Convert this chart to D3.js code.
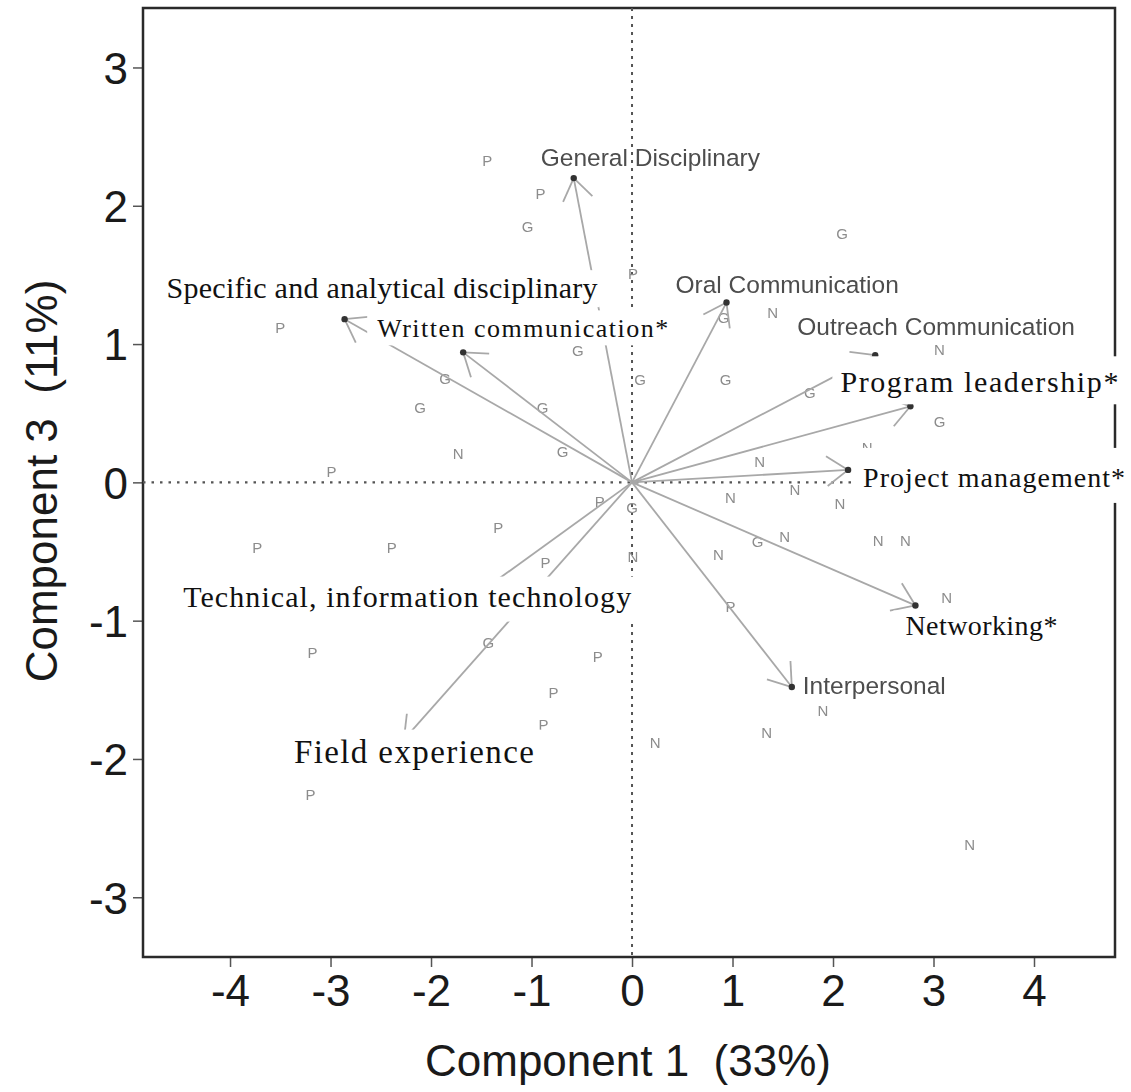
<!DOCTYPE html>
<html>
<head>
<meta charset="utf-8">
<script src="https://cdn.jsdelivr.net/npm/d3@7"></script>
<style>
  html, body { margin: 0; padding: 0; background: #fff; }
  svg { display: block; }
</style>
</head>
<body>
<script>
// ---------------- DATA ----------------
const xTicks = [-4, -3, -2, -1, 0, 1, 2, 3, 4];
const yTicks = [-3, -2, -1, 0, 1, 2, 3];
const xTitle = "Component 1  (33%)";
const yTitle = "Component 3  (11%)";

// Observations (group letter, component 1, component 3)
const obsGroup = ["P","P","G","P","G","P","G","N","N","G",
                  "G","G","G","G","G","G","G","N","G","N",
                  "N","P","P","G","N","N","N","P","P","P",
                  "P","G","N","N","N","N","N","P","N","G",
                  "P","P","P","P","N","N","N","P","N"];
const obsComp1 = [-1.44,-0.91,-1.04, 0.01, 2.09,-3.50, 0.91, 1.40, 3.06,-0.54,
                  -1.86,-2.11,-0.89, 0.08, 0.93, 1.77, 3.06,-1.73,-0.69, 2.34,
                   1.27,-2.99,-0.32, 0.00, 0.98, 1.62, 2.07,-1.33,-3.73,-2.39,
                  -0.86, 1.25, 1.52, 2.45, 2.72, 0.86, 0.01, 0.98, 3.13,-1.43,
                  -3.18,-0.34,-0.78,-0.88, 1.90, 1.34, 0.23,-3.20, 3.36];
const obsComp3 = [ 2.33, 2.09, 1.85, 1.51, 1.80, 1.12, 1.19, 1.23, 0.96, 0.95,
                   0.75, 0.54, 0.54, 0.74, 0.74, 0.65, 0.44, 0.21, 0.22, 0.25,
                   0.15, 0.08,-0.14,-0.18,-0.11,-0.05,-0.15,-0.33,-0.47,-0.47,
                  -0.58,-0.43,-0.39,-0.42,-0.42,-0.52,-0.54,-0.90,-0.83,-1.16,
                  -1.23,-1.26,-1.52,-1.75,-1.65,-1.81,-1.88,-2.26,-2.62];

// Variable loadings (arrows)
const varNames = ["General Disciplinary","Oral Communication","Outreach Communication",
                  "Program leadership*","Project management*","Networking*","Interpersonal",
                  "Field experience","Technical, information technology",
                  "Specific and analytical disciplinary","Written communication*"];
const varComp1 = [-0.58, 0.94, 2.42, 2.77, 2.15, 2.82, 1.59, -2.27, -1.75, -2.86, -1.68];
const varComp3 = [ 2.20, 1.30, 0.92, 0.55, 0.09,-0.89,-1.48, -1.86, -0.92,  1.18,  0.94];

// ---------------- LAYOUT (styles / offsets, px) ----------------
const W = 1131, H = 1092;
const plot = { left: 143, right: 1115, top: 8, bottom: 957 };
// sans grey labels: offset of text start / vertical centre from arrow tip
const sansLabels = {
  "General Disciplinary":   { dx: -33, dy: -21 },
  "Oral Communication":     { dx: -51, dy: -18 },
  "Outreach Communication": { dx: -78, dy: -29 },
  "Interpersonal":          { dx: 11,  dy: -2 }
};
// serif overlaid labels: text start/baseline offset, white box, font size, width
const serifLabels = {
  "Specific and analytical disciplinary": { dx: -178, dy: -21, box: [-185, -49, 440, 37], fs: 30, w: 431 },
  "Written communication*":               { dx: -86,  dy: -15, box: [-96, -42, 305, 35],  fs: 26, w: 291 },
  "Program leadership*":                  { dx: -70,  dy: -14, box: [-78, -50, 300, 48],  fs: 30, w: 278 },
  "Project management*":                  { dx: 15,   dy: 17,  box: [5, -22, 290, 55],    fs: 28, w: 262 },
  "Networking*":                          { dx: -10,  dy: 30,  box: [-22, 5, 177, 35],    fs: 28, w: 152 },
  "Technical, information technology":    { dx: -273, dy: -3,  box: [-280, -33, 462, 45], fs: 30, w: 448 },
  "Field experience":                     { dx: -110, dy: 23,  box: [-118, -10, 255, 43], fs: 33, w: 240 }
};

// ---------------- CHART ----------------
const svg = d3.select("body").append("svg").attr("width", W).attr("height", H);

const defs = svg.append("defs");
defs.append("filter").attr("id", "soft")
  .append("feGaussianBlur").attr("stdDeviation", 0.6);

const x = d3.scaleLinear().domain([-4.866, 4.806]).range([plot.left, plot.right]);
const y = d3.scaleLinear().domain([-3.432, 3.43]).range([plot.bottom, plot.top]);

const sans = "'Liberation Sans', Arial, Helvetica, sans-serif";
const serif = "'Liberation Serif', 'Times New Roman', serif";

// axes
const xAxis = svg.append("g")
  .attr("transform", `translate(0,${plot.bottom})`)
  .call(d3.axisBottom(x).tickValues(xTicks).tickSize(10).tickPadding(8).tickFormat(d => String(d)));
const yAxis = svg.append("g")
  .attr("transform", `translate(${plot.left},0)`)
  .call(d3.axisLeft(y).tickValues(yTicks).tickSize(10).tickPadding(5).tickFormat(d => String(d)));
[xAxis, yAxis].forEach(g => {
  g.select(".domain").remove();
  g.selectAll(".tick line").attr("stroke", "#555").attr("stroke-width", 1.5);
  g.selectAll(".tick text").attr("fill", "#1a1a1a").style("font-family", sans).style("font-size", "44px");
});
xAxis.selectAll(".tick text").attr("dy", "0.71em");
yAxis.selectAll(".tick text").attr("dy", "0.36em");

// axis titles
svg.append("text")
  .attr("x", 628).attr("y", 1076)
  .attr("text-anchor", "middle")
  .style("white-space", "pre")
  .style("font-family", sans).style("font-size", "44px").attr("fill", "#1a1a1a")
  .text(xTitle);
svg.append("text")
  .attr("transform", `translate(57,481) rotate(-90)`)
  .attr("text-anchor", "middle")
  .style("white-space", "pre")
  .style("font-family", sans).style("font-size", "44px").attr("fill", "#1a1a1a")
  .text(yTitle);

// frame
svg.append("rect")
  .attr("x", plot.left).attr("y", plot.top)
  .attr("width", plot.right - plot.left).attr("height", plot.bottom - plot.top)
  .attr("fill", "none").attr("stroke", "#2a2a2a").attr("stroke-width", 2.5);

// soft grey layer
const layer = svg.append("g").attr("filter", "url(#soft)");

// reference dotted lines
layer.append("line")
  .attr("x1", plot.left).attr("x2", plot.right).attr("y1", y(0)).attr("y2", y(0))
  .attr("stroke", "#555").attr("stroke-width", 2.2).attr("stroke-dasharray", "2.5,6");
layer.append("line")
  .attr("x1", x(0)).attr("x2", x(0)).attr("y1", plot.top).attr("y2", plot.bottom)
  .attr("stroke", "#555").attr("stroke-width", 2).attr("stroke-dasharray", "3,5");

// observations
layer.selectAll("text.obs")
  .data(obsGroup.map((g, i) => ({ g, c1: obsComp1[i], c3: obsComp3[i] })))
  .join("text").attr("class", "obs")
  .attr("x", d => x(d.c1)).attr("y", d => y(d.c3))
  .attr("dy", "0.36em").attr("text-anchor", "middle")
  .style("font-family", sans).style("font-size", "15px")
  .attr("fill", "#8c8c8c")
  .text(d => d.g);

// arrows
const vars = varNames.map((n, i) => ({ name: n, c1: varComp1[i], c3: varComp3[i] }));
const ox = x(0), oy = y(0);
const headLen = 26, headAng = 35 * Math.PI / 180;
vars.forEach(v => {
  const tx = x(v.c1), ty = y(v.c3);
  layer.append("line")
    .attr("x1", ox).attr("y1", oy).attr("x2", tx).attr("y2", ty)
    .attr("stroke", "#a8a8a8").attr("stroke-width", 1.8);
  const back = Math.atan2(oy - ty, ox - tx);
  [back + headAng, back - headAng].forEach(a => {
    layer.append("line")
      .attr("x1", tx).attr("y1", ty)
      .attr("x2", tx + headLen * Math.cos(a)).attr("y2", ty + headLen * Math.sin(a))
      .attr("stroke", "#a8a8a8").attr("stroke-width", 1.8);
  });
  layer.append("circle").attr("cx", tx).attr("cy", ty).attr("r", 3.2).attr("fill", "#333");
});

// grey sans labels
vars.filter(v => sansLabels[v.name]).forEach(v => {
  const L = sansLabels[v.name];
  layer.append("text")
    .attr("x", x(v.c1) + L.dx).attr("y", y(v.c3) + L.dy)
    .attr("dy", "0.36em")
    .style("font-family", sans).style("font-size", "24.5px")
    .attr("fill", "#4d4d4d")
    .text(v.name);
});

// overlaid serif labels with white boxes
const overlay = svg.append("g");
vars.filter(v => serifLabels[v.name]).forEach(v => {
  const L = serifLabels[v.name];
  const tx = x(v.c1), ty = y(v.c3);
  overlay.append("rect")
    .attr("x", tx + L.box[0]).attr("y", ty + L.box[1])
    .attr("width", L.box[2]).attr("height", L.box[3])
    .attr("fill", "#fff");
  overlay.append("text")
    .attr("x", tx + L.dx).attr("y", ty + L.dy)
    .attr("textLength", L.w).attr("lengthAdjust", "spacing")
    .style("font-family", serif).style("font-size", L.fs + "px")
    .attr("fill", "#111")
    .text(v.name);
});
</script>
</body>
</html>
